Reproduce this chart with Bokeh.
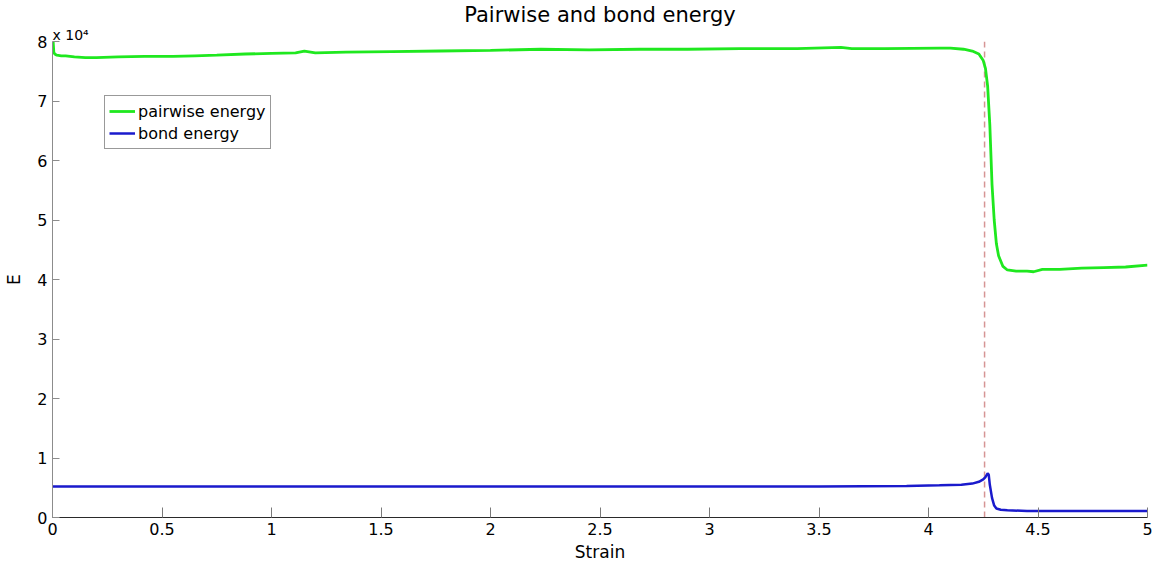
from bokeh.plotting import figure
from bokeh.models import Range1d, Span, Title, FixedTicker, Legend, LegendItem
from bokeh.embed import file_html
from bokeh.resources import INLINE

# ---- data (energy in units of 1e4) ----
strain_pair = [0.000, 0.003, 0.006, 0.010, 0.020, 0.040, 0.060, 0.100, 0.150, 0.200,
               0.300, 0.420, 0.550, 0.650, 0.750, 0.880, 1.000, 1.110, 1.150, 1.200,
               1.340, 1.550, 1.770, 2.000, 2.230, 2.450, 2.680, 2.900, 3.140, 3.400,
               3.600, 3.650, 3.800, 4.050, 4.100, 4.160, 4.200, 4.230, 4.250, 4.260,
               4.270, 4.280, 4.290, 4.300, 4.310, 4.320, 4.340, 4.360, 4.400, 4.450,
               4.480, 4.520, 4.600, 4.700, 4.800, 4.900, 5.000]
pairwise_energy = [7.96, 8.00, 7.82, 7.79, 7.77, 7.76, 7.76, 7.74, 7.73, 7.73,
                   7.74, 7.75, 7.75, 7.76, 7.77, 7.79, 7.80, 7.81, 7.84, 7.81,
                   7.82, 7.83, 7.84, 7.85, 7.87, 7.86, 7.87, 7.87, 7.88, 7.88,
                   7.90, 7.88, 7.88, 7.89, 7.89, 7.87, 7.84, 7.79, 7.68, 7.55,
                   7.25, 6.60, 5.60, 5.00, 4.60, 4.40, 4.22, 4.16, 4.14, 4.14,
                   4.13, 4.17, 4.17, 4.19, 4.20, 4.21, 4.24]

strain_bond = [0.0, 0.5, 1.0, 1.5, 2.0, 2.5, 3.0, 3.5, 3.9, 4.05, 4.15, 4.20, 4.23,
               4.25, 4.26, 4.27, 4.275, 4.28, 4.29, 4.30, 4.31, 4.33, 4.36, 4.45,
               4.6, 4.8, 5.0]
bond_energy = [0.52, 0.52, 0.52, 0.52, 0.52, 0.52, 0.52, 0.52, 0.53, 0.54, 0.55,
               0.57, 0.60, 0.64, 0.68, 0.74, 0.72, 0.55, 0.33, 0.20, 0.15, 0.13,
               0.12, 0.11, 0.11, 0.11, 0.11]

break_strain = 4.256
x_ticks = [0, 0.5, 1, 1.5, 2, 2.5, 3, 3.5, 4, 4.5, 5]
y_ticks = [0, 1, 2, 3, 4, 5, 6, 7, 8]

FONT = "DejaVu Sans"
W, H = 1157, 565

p = figure(width=W, height=H, output_backend="svg", toolbar_location=None,
           x_range=Range1d(0, 5), y_range=Range1d(0, 8),
           min_border_left=52, min_border_right=10, min_border_top=41,
           min_border_bottom=48)
p.outline_line_color = None
p.grid.visible = False
p.background_fill_color = "white"
p.border_fill_color = "white"

span = Span(location=break_strain, dimension="height", line_color="#d69595",
            line_dash="6 4", line_width=1.5, level="underlay")
p.add_layout(span)

r_pair = p.line(strain_pair, pairwise_energy, line_color="#1fe81f", line_width=2.8)
r_bond = p.line(strain_bond, bond_energy, line_color="#1a1acc", line_width=2.5)

legend = Legend(items=[LegendItem(label="pairwise energy", renderers=[r_pair]),
                       LegendItem(label="bond energy", renderers=[r_bond])],
                location=(52, 368), orientation="vertical")
legend.label_text_font = FONT
legend.label_text_font_size = "16px"
legend.label_text_color = "black"
legend.label_height = 22
legend.glyph_height = 22
legend.glyph_width = 26
legend.label_standoff = 3
legend.padding = 4
legend.spacing = 0
legend.margin = 0
legend.border_line_color = "#333333"
legend.border_line_width = 1
legend.background_fill_color = "white"
legend.background_fill_alpha = 1.0
p.add_layout(legend)

# axes
p.xaxis.ticker = FixedTicker(ticks=x_ticks)
p.yaxis.ticker = FixedTicker(ticks=y_ticks)
p.xaxis.major_label_overrides = {0: "0", 1: "1", 2: "2", 3: "3", 4: "4", 5: "5"}
p.yaxis.major_label_overrides = {i: str(i) for i in y_ticks}
for ax in (p.xaxis, p.yaxis):
    ax.major_label_text_font = FONT
    ax.major_label_text_font_size = "16px"
    ax.major_label_text_color = "black"
    ax.axis_label_text_font = FONT
    ax.axis_label_text_font_size = "17px"
    ax.axis_label_text_font_style = "normal"
    ax.axis_label_text_color = "black"
    ax.minor_tick_line_color = None
    ax.major_tick_out = 0
    ax.major_label_standoff = 5

p.xaxis.axis_label = "Strain"
p.xaxis.axis_label_standoff = 4
p.xaxis.axis_line_color = "#2a2a2a"
p.xaxis.major_tick_line_color = "#7a7a7a"
p.xaxis.major_tick_in = 10

p.yaxis.axis_label = "E"
p.yaxis.axis_label_standoff = 10
p.yaxis.axis_line_color = "#8c8c8c"
p.yaxis.major_tick_line_color = "#8c8c8c"
p.yaxis.major_tick_in = 7

# title and exponent (as titles above the frame)
p.title.text = "Pairwise and bond energy"
p.title.align = "center"
p.title.text_font = FONT
p.title.text_font_size = "21px"
p.title.text_font_style = "normal"
p.title.text_color = "black"
p.title.standoff = -2
p.title.offset = -6

exp_title = Title(text="x 10\u2074", align="left", text_font=FONT,
                  text_font_size="14px", text_font_style="normal",
                  text_color="black", standoff=-2, offset=0)
p.add_layout(exp_title, "above")

open("out.html", "w").write(file_html(p, INLINE))
